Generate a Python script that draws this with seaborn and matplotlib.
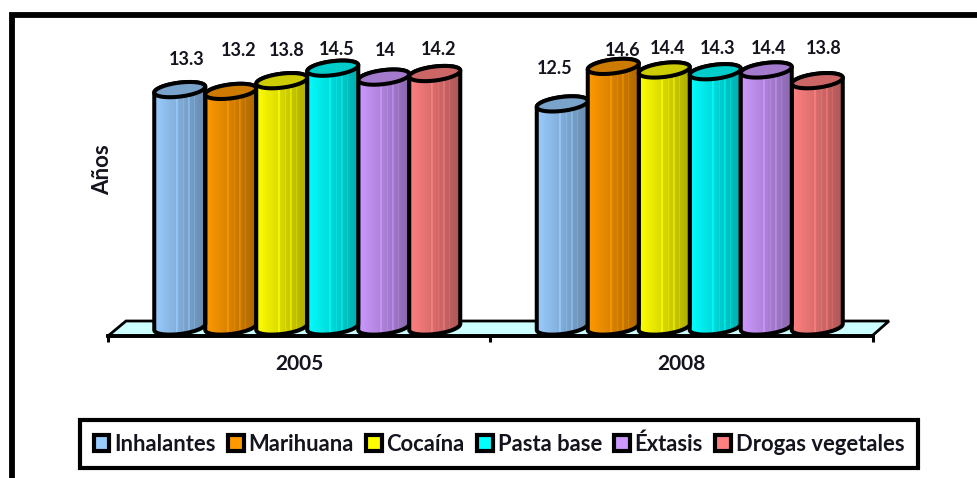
import numpy as np
import pandas as pd
import matplotlib
matplotlib.use("Agg")
import matplotlib.pyplot as plt
from matplotlib.colors import to_rgb
from matplotlib.lines import Line2D
from matplotlib.patches import Patch, Polygon
import seaborn as sns

years = ["2005", "2008"]
drogas = ["Inhalantes", "Marihuana", "Cocaína", "Pasta base", "Éxtasis", "Drogas vegetales"]
valores_2005 = [13.3, 13.2, 13.8, 14.5, 14, 14.2]
valores_2008 = [12.5, 14.6, 14.4, 14.3, 14.4, 13.8]
colores = ["#99CCFF", "#FF9900", "#FFFF00", "#00FFFF", "#CC99FF", "#FF8080"]

# label offsets from the top of each bar, in pixels
offset_2005 = [(7, 30), (8, 41), (5, 30), (4, 19), (1, 27), (4, 24)]
offset_2008 = [(-8, 35), (9, 16), (3, 21), (2, 23), (2, 21), (6, 32)]

W, H = 977, 478
PX_UNIT = 17.85  # pixels per year on the y axis
BASE_Y = 327
AXIS_Y = 336
TOP_Y = 40

sns.set_theme(style="white")
plt.rcParams["font.family"] = ["Lato", "DejaVu Sans"]
plt.rcParams["font.weight"] = "bold"
TEXT = "#14141e"


def fx(x):
    return x / W


def fy(y):
    return (H - y) / H


df = pd.DataFrame({
    "year": np.repeat(years, len(drogas)),
    "droga": drogas * 2,
    "valor": valores_2005 + valores_2008,
})

fig = plt.figure(figsize=(W / 100, H / 100), dpi=100)
ax = fig.add_axes([fx(108), fy(AXIS_Y), 765 / W, (AXIS_Y - TOP_Y) / H])

sns.barplot(data=df, x="year", y="valor", hue="droga", hue_order=drogas,
            palette=colores, saturation=1, width=0.80, gap=0, legend=False, ax=ax)

shift = 8 / 382
ymin, ymax = -(AXIS_Y - BASE_Y) / PX_UNIT, (BASE_Y - TOP_Y) / PX_UNIT
xlim = (-0.5 - shift, 1.5 - shift)

# streaky shading across each cylinder
shade = np.linspace(1.0, 0.68, 60)
for i0, f in [(26, 1.14), (27, 1.14), (34, 1.1), (40, 1.16), (41, 1.16), (47, 1.12)]:
    shade[i0] *= f

b = 7 / PX_UNIT
tilt = 3 / PX_UNIT
t_low = np.linspace(np.pi, 2 * np.pi, 50)
t_up = np.linspace(0, np.pi, 50)
t_all = np.linspace(0, 2 * np.pi, 100)

for k, cont in enumerate(ax.containers):
    color = np.array(to_rgb(colores[k]))
    for j, bar in enumerate(cont.patches):
        bar.set_visible(False)
        x0, w, h = bar.get_x(), bar.get_width(), bar.get_height()
        cx, a = x0 + w / 2, w / 2
        z = 3 + h / 100

        def ring(t, y0):
            return np.column_stack([cx + a * np.cos(t), y0 + b * np.sin(t) + tilt * np.cos(t)])

        body = np.vstack([ring(t_low, 0), ring(t_up, h)])
        poly = Polygon(body, closed=True, fc="none", ec="black", lw=2.9, zorder=z + 0.001, joinstyle="round")
        ax.add_patch(poly)

        img = np.clip(shade[None, :, None] * color[None, None, :], 0, 1)
        im = ax.imshow(img, extent=(x0, x0 + w, -1, h + 1), aspect="auto", zorder=z)
        im.set_clip_path(Polygon(body, closed=True, transform=ax.transData))

        cap = Polygon(ring(t_all, h), closed=True, fc=color * 0.8, ec="black", lw=2.9, zorder=z + 0.002)
        ax.add_patch(cap)

        dx, dy = (offset_2005 if j == 0 else offset_2008)[k]
        ax.annotate(f"{h:g}", (cx, h), xytext=(dx, dy), textcoords="offset pixels",
                    ha="center", va="center", fontsize=13, color=TEXT, fontweight="bold", zorder=10)

ax.set_xlim(xlim)
ax.set_ylim(ymin, ymax)
ax.set_yticks([])
ax.set_ylabel("Años", fontsize=16, fontweight="bold", color=TEXT)
ax.yaxis.set_label_coords((113 - 108) / 765, (AXIS_Y - 170) / (AXIS_Y - TOP_Y))
ax.set_xlabel("")

sns.despine(ax=ax, left=True)
ax.spines["bottom"].set_linewidth(2.8)
ax.spines["bottom"].set_color("black")
ax.patch.set_alpha(0)
ax.set_xticks([-0.5 - shift, 0.5 - shift, 1.5 - shift])
ax.set_xticklabels([])
ax.set_xticks([-shift, 1 - shift], labels=years, minor=True)
ax.tick_params(axis="x", which="major", length=4.5, width=2.2, color="black", bottom=True)
ax.tick_params(axis="x", which="minor", length=0, pad=13, labelsize=15, labelcolor=TEXT)

# floor of the 3d box
floor = Polygon([(fx(108), fy(AXIS_Y)), (fx(126), fy(321)), (fx(889), fy(321)), (fx(872), fy(AXIS_Y))],
                closed=True, fc="#CCFFFF", ec="black", lw=2, transform=fig.transFigure,
                clip_on=False, zorder=1)
ax.add_patch(floor)

handles = [Patch(fc=c, ec="black", lw=3) for c in colores]
leg = ax.legend(handles, drogas, ncol=6, loc="center", bbox_to_anchor=(fx(499), fy(444)),
                bbox_transform=fig.transFigure, fancybox=False, framealpha=1, edgecolor="black",
                fontsize=15.8, handlelength=0.72, handleheight=0.72, handletextpad=0.22,
                columnspacing=0.55, borderpad=0.62, borderaxespad=0)
leg.get_frame().set_linewidth(3)
for txt in leg.get_texts():
    txt.set_color(TEXT)

# outer border, open on the right and bottom
fig.add_artist(Line2D([fx(11.5), fx(11.5), 1], [0, fy(14.5), fy(14.5)], color="black", lw=4.2,
                      solid_joinstyle="miter"))

fig.savefig("out.png", dpi=100)
